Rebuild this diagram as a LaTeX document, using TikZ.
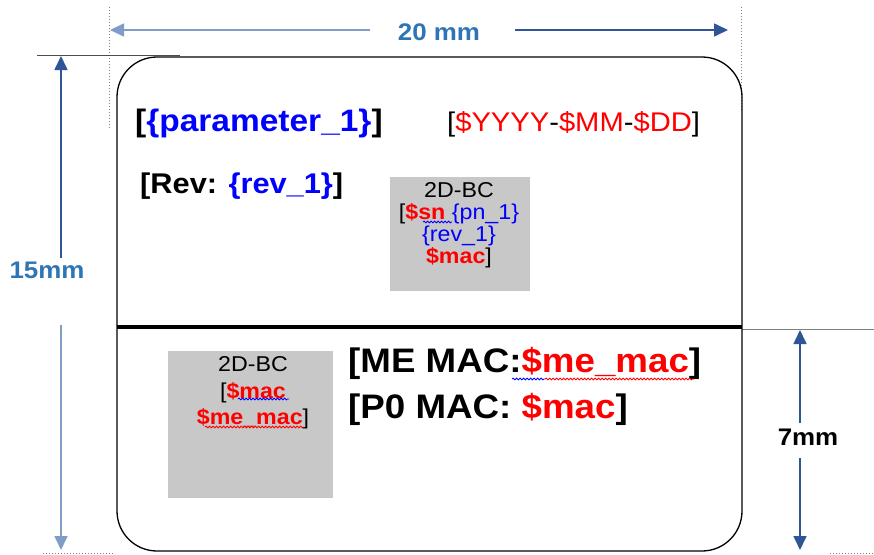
\documentclass[tikz,border=0pt]{standalone}
\usepackage{fontspec}
\setmainfont{Liberation Sans}
\usetikzlibrary{arrows.meta,decorations.pathmorphing}
\definecolor{dimblue}{HTML}{2E75B6}
\definecolor{dimline}{HTML}{2F5597}
\definecolor{dimlight}{HTML}{7F9DC6}
\definecolor{bcgray}{HTML}{C8C8C8}
\definecolor{fldblue}{HTML}{0000FF}
\definecolor{fldred}{HTML}{FF0000}
\newcommand{\fsz}[2]{\fontsize{#1}{#2}\selectfont}
\newcommand{\blu}[1]{\textcolor{fldblue}{#1}}
\newcommand{\rd}[1]{\textcolor{fldred}{#1}}
\newcommand{\wide}[1]{\scalebox{1.08}[1]{#1}}
\begin{document}
\begin{tikzpicture}[x=1pt,y=-1pt,
    dimarrow/.style={line width=1.6pt, -{Triangle[width=13pt,length=14pt]}},
    dimlabel/.style={inner sep=0pt, font=\bfseries\fsz{24}{24}},
    field/.style={inner sep=0pt, anchor=base west},
    bcbox/.style={fill=bcgray, draw=none},
    bctext/.style={inner sep=0pt, align=center},
    squig/.style={line width=0.8pt, decorate, decoration={snake, amplitude=0.9pt, segment length=3.5pt}}]
  \useasboundingbox (0,0) rectangle (874,554);

  % Draw guide lines
  \foreach \x/\ya/\yb in {109/7/130, 741/7/110} {
    \draw[gray, dotted, line width=1pt] (\x,\ya) -- (\x,\yb);
  }
  \draw[gray, dotted, line width=1pt] (43,553) -- (115,553);
  \draw[gray, dotted, line width=1pt] (830,553) -- (874,553);
  \draw[black!70, line width=0.8pt] (37,55) -- (180,55);
  \draw[gray, line width=0.8pt] (742,329) -- (874,329);

  % Draw label outline and divider
  \draw[line width=1.3pt, rounded corners=40pt] (117,57) rectangle (742,551);
  \draw[line width=3.5pt] (117,327) -- (742,327);

  % Dimension end points
  \coordinate (wl) at (110,30);
  \coordinate (wr) at (728,30);
  \coordinate (w1) at (370,30);
  \coordinate (w2) at (515,30);
  \coordinate (htop) at (61,56);
  \coordinate (hbot) at (61,550);
  \coordinate (h1) at (61,258);
  \coordinate (h2) at (61,325);
  \coordinate (vtop) at (800,330);
  \coordinate (vbot) at (800,550);
  \coordinate (v1) at (800,423);
  \coordinate (v2) at (800,458);

  % Dimension labels
  \node[dimlabel, text=dimblue] (wlab) at (439,32) {\wide{20 mm}};
  \node[dimlabel, text=dimblue] (hlab) at (47,270) {\wide{15mm}};
  \node[dimlabel] (vlab) at (808,437) {\wide{7mm}};

  % Draw dimension arrows
  \foreach \a/\b/\c in {w1/wl/dimlight, w2/wr/dimline, h1/htop/dimline,
                        h2/hbot/dimlight, v1/vtop/dimline, v2/vbot/dimline} {
    \draw[dimarrow, \c] (\a) -- (\b);
  }

  % Fields of the upper part
  \node[field, font=\bfseries\fsz{31}{31}] (param) at (135,131)
    {\wide{[\blu{\{parameter\_1\}}]}};
  \node[field, font=\fsz{27}{27}] (date) at (447,131)
    {\wide{[\rd{\$YYYY}-\rd{\$MM}-\rd{\$DD}]}};
  \node[field, font=\bfseries\fsz{28.5}{28.5}] (rev) at (140,193)
    {\wide{[Rev: \blu{\{rev\_1\}}]}};

  % First 2D barcode
  \node[bcbox, minimum width=140pt, minimum height=114pt] (bc1) at (460,234) {};
  \node[bctext, font=\fsz{21.5}{22}] (bc1txt) at (459,225)
    {\wide{2D-BC}\\\wide{[\textbf{\rd{\$sn}} \blu{\{pn\_1\}}}\\
     \wide{\blu{\{rev\_1\}}}\\\wide{\textbf{\rd{\$mac}}]}};
  \draw[squig, fldblue] (423,222) -- (452,222);

  % Second 2D barcode
  \node[bcbox, minimum width=165pt, minimum height=147pt] (bc2) at (250.5,424.5) {};
  \node[bctext, font=\fsz{21.5}{26.5}] (bc2txt) at (253,393)
    {\wide{2D-BC}\\\wide{[\textbf{\rd{\$mac}}}\\\wide{\textbf{\rd{\$me\_mac}}]}};
  \draw[squig, fldblue] (238,399) -- (289,399);
  \draw[squig, fldred] (205,427) -- (304,427);

  % Fields of the lower part
  \node[field, font=\bfseries\fsz{34}{34}] (memac) at (348,372)
    {\wide{[ME MAC:\rd{\$me\_mac}]}};
  \node[field, font=\bfseries\fsz{34}{34}] (pmac) at (348,418)
    {\wide{[P0 MAC: \rd{\$mac}]}};
  \draw[squig, fldblue] (512,379) -- (545,379);
  \draw[squig, fldred] (545,379) -- (694,379);
\end{tikzpicture}
\end{document}
